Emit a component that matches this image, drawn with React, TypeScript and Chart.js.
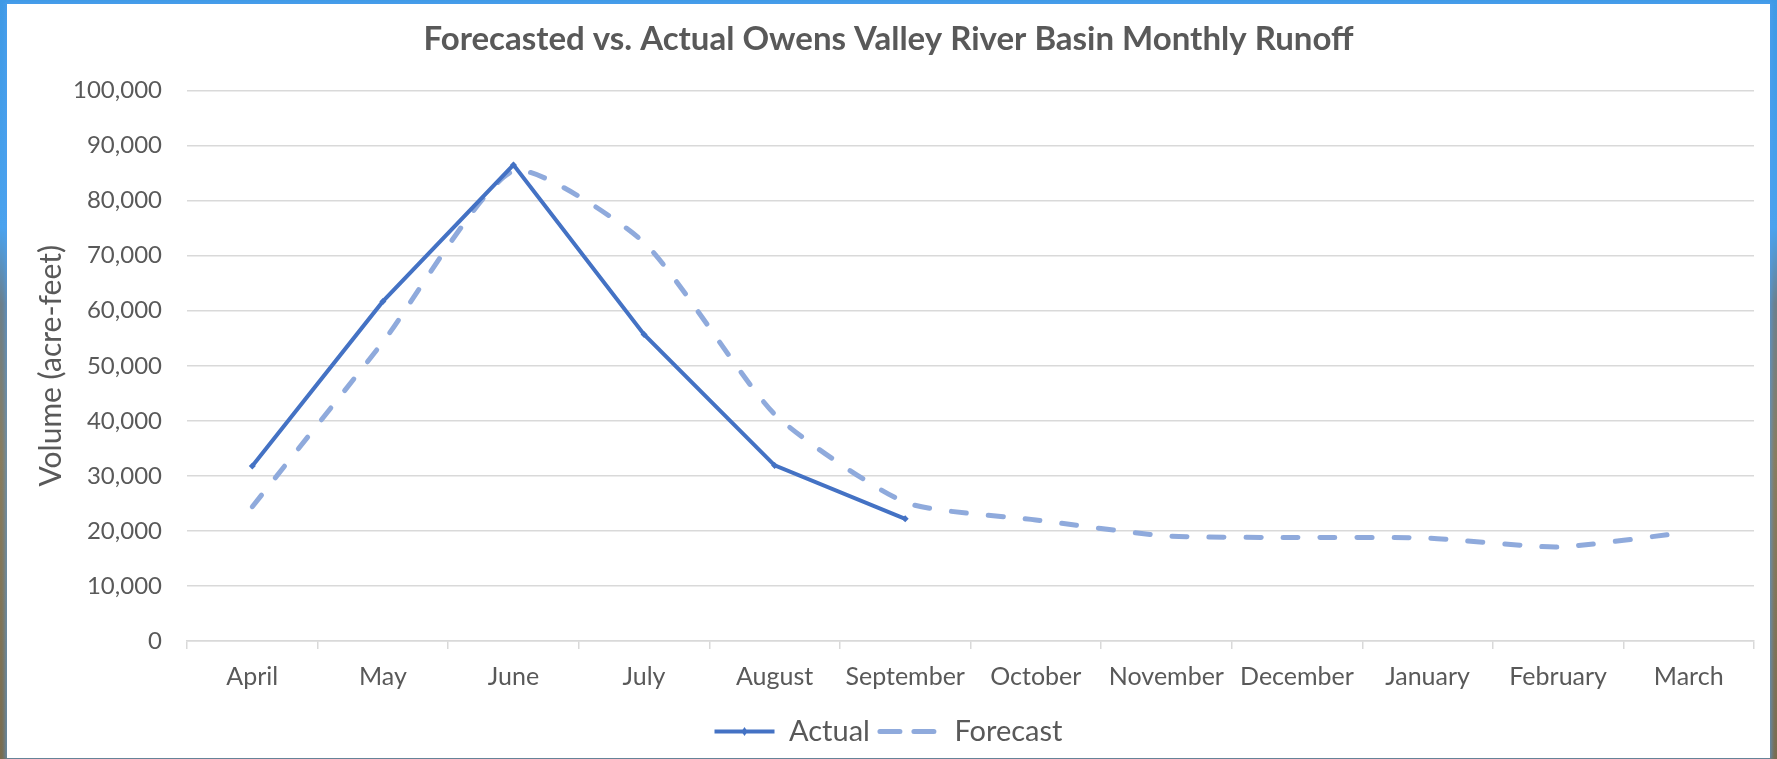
import React, { useEffect, useRef } from "react";
import { Chart, registerables } from "chart.js";

Chart.register(...registerables);

const months = [
  "April", "May", "June", "July", "August", "September",
  "October", "November", "December", "January", "February", "March",
];
const actualValues: (number | null)[] = [31800, 61700, 86500, 55700, 31900, 22200, null, null, null, null, null, null];
const forecastValues: number[] = [24400, 54300, 85400, 72400, 41200, 25200, 22000, 19100, 18800, 18700, 17100, 19800];
const yTickValues = [0, 10000, 20000, 30000, 40000, 50000, 60000, 70000, 80000, 90000, 100000];

const TEXT = "#595959";
const GRID = "#d9d9d9";
const ACTUAL = "#4472C4";
const FORECAST = "#8FAADC";
const FONT = "Lato, 'Open Sans', sans-serif";

const legendDiamond = {
  id: "legendDiamond",
  afterDraw(chart: any) {
    const legend = chart.legend;
    if (!legend || !legend.legendHitBoxes || !legend.legendHitBoxes.length) return;
    const box = legend.legendHitBoxes[0];
    const w = chart.options.plugins.legend.labels.pointStyleWidth;
    const cx = box.left + w / 2;
    const cy = box.top + box.height / 2;
    const ctx = chart.ctx;
    ctx.save();
    ctx.fillStyle = ACTUAL;
    ctx.beginPath();
    ctx.moveTo(cx, cy - 4.5);
    ctx.lineTo(cx + 3, cy);
    ctx.lineTo(cx, cy + 4.5);
    ctx.lineTo(cx - 3, cy);
    ctx.closePath();
    ctx.fill();
    ctx.restore();
  },
};

export default function App() {
  const ref = useRef<HTMLCanvasElement | null>(null);

  useEffect(() => {
    document.body.style.margin = "0";
    const canvas = ref.current;
    if (!canvas) return;
    const chart = new Chart(canvas, {
      type: "line",
      data: {
        labels: months,
        datasets: [
          {
            label: "Actual",
            data: actualValues,
            borderColor: ACTUAL,
            backgroundColor: ACTUAL,
            borderWidth: 4,
            pointStyle: "rectRot",
            pointRadius: 3.5,
            pointBorderWidth: 0,
            pointBackgroundColor: ACTUAL,
            tension: 0,
            spanGaps: false,
          },
          {
            label: "Forecast",
            data: forecastValues,
            borderColor: FORECAST,
            backgroundColor: FORECAST,
            borderWidth: 5,
            borderDash: [15, 22],
            borderCapStyle: "round",
            pointRadius: 0,
            tension: 0.2,
          },
        ],
      },
      options: {
        animation: false,
        responsive: false,
        maintainAspectRatio: false,
        layout: { padding: { left: 23, right: 23, top: 0, bottom: 3 } },
        scales: {
          x: {
            offset: true,
            grid: {
              offset: true,
              drawOnChartArea: false,
              drawTicks: true,
              tickLength: 8,
              color: GRID,
              lineWidth: 1.5,
            },
            border: { display: true, color: GRID, width: 1.5 },
            ticks: {
              color: TEXT,
              font: { family: FONT, size: 25 },
              padding: 13,
              maxRotation: 0,
              autoSkip: false,
            },
            afterFit(scale: any) {
              scale.height = 66;
            },
          },
          y: {
            min: 0,
            max: 100000,
            afterBuildTicks(scale: any) {
              scale.ticks = yTickValues.map((v) => ({ value: v }));
            },
            grid: { color: GRID, lineWidth: 1.5, drawTicks: false },
            border: { display: false },
            ticks: {
              color: TEXT,
              font: { family: FONT, size: 24 },
              padding: 25,
              callback: (v: any) => Number(v).toLocaleString("en-US"),
            },
            title: {
              display: true,
              text: "Volume (acre-feet)",
              color: TEXT,
              font: { family: FONT, size: 30 },
              padding: { top: 10, bottom: 0 },
            },
            afterFit(scale: any) {
              scale.width = 164;
            },
          },
        },
        plugins: {
          title: {
            display: true,
            text: "Forecasted vs. Actual Owens Valley River Basin Monthly Runoff",
            color: TEXT,
            font: { family: FONT, size: 33, weight: "bold" },
            padding: { top: 20, bottom: 31 },
          },
          legend: {
            display: true,
            position: "bottom",
            labels: {
              color: TEXT,
              font: { family: FONT, size: 29 },
              usePointStyle: true,
              pointStyle: "line",
              pointStyleWidth: 60,
              boxHeight: 10,
              padding: 10,
              generateLabels(chart: any) {
                return chart.data.datasets.map((ds: any, i: number) => ({
                  text: ds.label,
                  fillStyle: ds.borderColor,
                  strokeStyle: ds.borderColor,
                  lineWidth: ds.borderWidth,
                  lineDash: i === 1 ? [20, 14] : [],
                  lineCap: i === 1 ? "round" : "butt",
                  pointStyle: "line",
                  fontColor: TEXT,
                  datasetIndex: i,
                  hidden: false,
                }));
              },
            },
          },
          tooltip: { enabled: false },
        },
      },
      plugins: [legendDiamond],
    });
    return () => chart.destroy();
  }, []);

  return (
    <div
      style={{
        position: "absolute",
        left: 0,
        top: 0,
        width: 1777,
        height: 759,
        background:
          "linear-gradient(180deg, #3f9ae6 0%, #4aa3ee 30%, #6d7f8a 40%, #8a7c5c 60%, #7a6c4e 100%)",
        overflow: "hidden",
      }}
    >
      <div
        style={{
          position: "absolute",
          left: 7,
          top: 4,
          width: 1763,
          height: 754,
          background: "#ffffff",
          boxShadow: "0 0 4px 2px rgba(80,160,240,0.6)",
        }}
      />
      <canvas
        ref={ref}
        width={1777}
        height={759}
        style={{ position: "absolute", left: 0, top: 0, width: 1777, height: 759 }}
      />
    </div>
  );
}
